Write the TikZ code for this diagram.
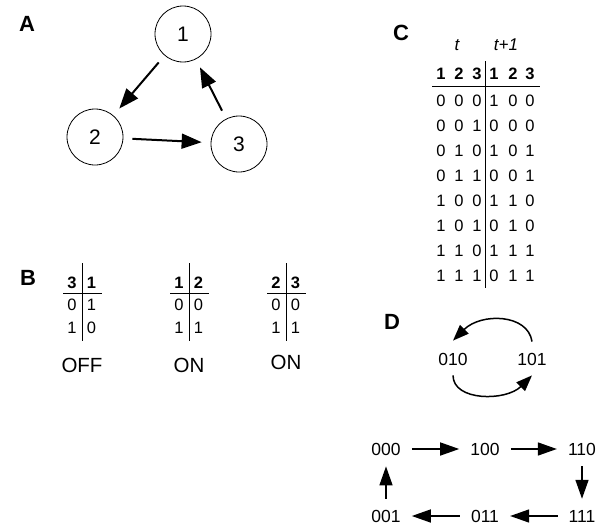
\documentclass[tikz,border=0pt]{standalone}
\usepackage{fontspec}
\setmainfont{Liberation Sans}
\usetikzlibrary{arrows.meta}
\definecolor{ink}{HTML}{000000}
\tikzset{
  panel/.style={text=ink, inner sep=0pt, font=\fontsize{22}{22}\selectfont\bfseries},
  gene/.style={circle, draw=ink, line width=0.8pt, minimum size=56pt, inner sep=0pt, font=\fontsize{21}{21}\selectfont},
  link/.style={draw=ink, line width=2pt, shorten <=9pt, shorten >=9pt, -{Triangle[length=20pt,width=15pt]}},
  cell/.style={text=ink, inner sep=0pt, font=\fontsize{16.5}{16.5}\selectfont},
  hcell/.style={cell, font=\fontsize{16.5}{16.5}\selectfont\bfseries},
  tcell/.style={cell, font=\fontsize{17}{17}\selectfont\itshape},
  rule/.style={draw=ink, line width=0.8pt},
  word/.style={text=ink, inner sep=0pt, font=\fontsize{20.5}{20.5}\selectfont},
  code/.style={text=ink, inner sep=0pt, font=\fontsize{17.5}{17.5}\selectfont},
  move/.style={draw=ink, line width=1.5pt, shorten <=11pt, shorten >=11pt, -{Triangle[length=19pt,width=13pt]}},
  swing/.style={draw=ink, line width=1.5pt, -{Triangle[length=16pt,width=12pt]}},
}

\begin{document}
\begin{tikzpicture}[x=1pt, y=-1pt]
\useasboundingbox (0,0) rectangle (616,530);

% A: network
\node[panel] (pa) at (27,24) {A};
\node[gene] (g1) at (183,34) {1};
\node[gene] (g2) at (95,137) {2};
\node[gene] (g3) at (239,144) {3};
\draw[link] (g1) -- (g2);
\draw[link] (g2) -- (g3);
\draw[link] (g3) -- (g1);

% B: rules
\node[panel] (pb) at (28,278) {B};
\foreach \x/\l/\r/\pa/\pb/\qa/\qb/\w/\wy [count=\i] in
  {82/3/1/0/1/1/0/OFF/365, 189/1/2/0/0/1/1/ON/365, 286/2/3/0/0/1/1/ON/362} {
  \node[hcell] (bl\i) at (\x-10,283) {\l};
  \node[hcell] (br\i) at (\x+9.5,283) {\r};
  \node[cell] (bpa\i) at (\x-10,305) {\pa};
  \node[cell] (bpb\i) at (\x+9.5,305) {\pb};
  \node[cell] (bqa\i) at (\x-10,328) {\qa};
  \node[cell] (bqb\i) at (\x+9.5,328) {\qb};
  \draw[rule] (\x,263) -- (\x,341);
  \draw[rule] (\x-19,293) -- (\x+20,293);
  \node[word] (bw\i) at (\x,\wy) {\w};
}

% C: truth table
\node[panel] (pc) at (401,33) {C};
\node[tcell] (tnow) at (457,45) {t};
\node[tcell] (tnext) at (506,45) {t+1};
\foreach \c/\x in {1/441,2/459,3/477} {\node[hcell] (hn\c) at (\x,74) {\c};}
\foreach \c/\x in {1/494,2/513,3/530} {\node[hcell] (hx\c) at (\x,74) {\c};}
\draw[rule] (432,86) -- (540,86);
\draw[rule] (485,61) -- (485,288);
\foreach \a/\b/\c/\d/\e/\f [count=\r] in
  {0/0/0/1/0/0, 0/0/1/0/0/0, 0/1/0/1/0/1, 0/1/1/0/0/1,
   1/0/0/1/1/0, 1/0/1/0/1/0, 1/1/0/1/1/1, 1/1/1/0/1/1} {
  \node[cell] (ra\r) at (441,76+25*\r) {\a};
  \node[cell] (rb\r) at (459,76+25*\r) {\b};
  \node[cell] (rc\r) at (477,76+25*\r) {\c};
  \node[cell] (rd\r) at (494,76+25*\r) {\d};
  \node[cell] (re\r) at (513,76+25*\r) {\e};
  \node[cell] (rf\r) at (530,76+25*\r) {\f};
}

% D: state transitions
\node[panel] (pd) at (392,322) {D};
\node[code] (s010) at (453,359) {010};
\node[code] (s101) at (532,359) {101};
\draw[swing] ([yshift=11pt]s101.north) .. controls +(-4,-28) and +(28,-28) .. ([yshift=12pt]s010.north);
\draw[swing] ([yshift=-10pt]s010.south) .. controls +(0,26) and +(-26,26) .. ([yshift=-10pt]s101.south);

\node[code] (s000) at (386,449) {000};
\node[code] (s100) at (485,449) {100};
\node[code] (s110) at (582,449) {110};
\node[code] (s001) at (386,516) {001};
\node[code] (s011) at (485,516) {011};
\node[code] (s111) at (582,516) {111};
\draw[move] (s000) -- (s100);
\draw[move] (s100) -- (s110);
\draw[move] (s110) -- (s111);
\draw[move] (s111) -- (s011);
\draw[move] (s011) -- (s001);
\draw[move] (s001) -- (s000);
\end{tikzpicture}
\end{document}
